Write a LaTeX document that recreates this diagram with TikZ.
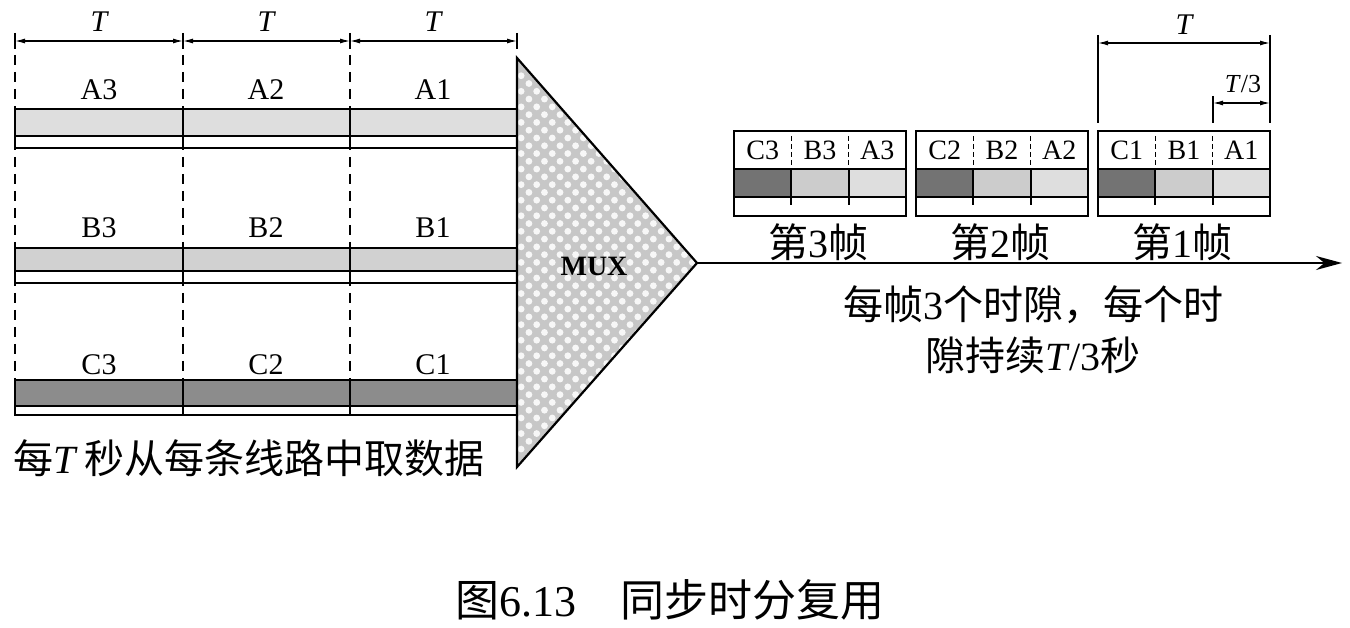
\documentclass[tikz,border=0pt]{standalone}
\usepackage{fontspec}
\setmainfont{Liberation Serif}
\newfontfamily\cjk{Noto Sans CJK SC}
\usetikzlibrary{arrows.meta,patterns.meta}
\newcommand\zh[1]{{\cjk #1}}
\definecolor{cA}{gray}{0.87}
\definecolor{cB}{gray}{0.82}
\definecolor{cC}{gray}{0.55}
\definecolor{fA}{gray}{0.87}
\definecolor{fB}{gray}{0.80}
\definecolor{fC}{gray}{0.45}
\definecolor{cM}{gray}{0.78}
\begin{document}
\begin{tikzpicture}[x=1pt,y=-1pt,line width=2pt,
  lab/.style={font=\fontsize{30}{32}\selectfont,inner sep=0pt},
  tlab/.style={font=\fontsize{30}{32}\selectfont\itshape,inner sep=0pt},
  flab/.style={font=\fontsize{28}{30}\selectfont,inner sep=0pt},
  zhtext/.style={font=\fontsize{40}{44}\selectfont,inner sep=0pt},
  dim/.style={line width=1.2pt,{Latex[length=10pt,width=5pt]}-{Latex[length=10pt,width=5pt]}},
  guide/.style={line width=1.4pt},
  dsh/.style={line width=1.8pt,dash pattern=on 10pt off 7pt},
  sdsh/.style={line width=1.3pt,dash pattern=on 5pt off 3pt}]
\fill[white] (0,0) rectangle (1350,628);
\useasboundingbox (0,0) rectangle (1350,628);

% ---- top T dimensions (left)
\foreach \x in {15,183,350,517} \draw[guide] (\x,33) -- (\x,49);
\coordinate (p0) at (15,41);
\coordinate (p1) at (183,41);
\coordinate (p2) at (350,41);
\coordinate (p3) at (517,41);
\draw[dim] (p0) -- (p1);
\draw[dim] (p1) -- (p2);
\draw[dim] (p2) -- (p3);
\node[tlab] (T1) at (99,22) {T};
\node[tlab] (T2) at (266,22) {T};
\node[tlab] (T3) at (433,22) {T};

% ---- dashed guides
\foreach \x in {15,183,350} \draw[dsh] (\x,55) -- (\x,380);

% ---- channels
\foreach \t/\m/\b/\c in {109/136/148/cA,248/271/283/cB,380/406/415/cC}{
  \fill[white] (15,\t) rectangle (517,\b);
  \fill[\c] (15,\t) rectangle (517,\m);
  \draw (15,\t) rectangle (517,\b);
  \draw (15,\m) -- (517,\m);
  \draw (183,\t) -- (183,\b);
  \draw (350,\t) -- (350,\b);
}
\node[lab] (A3) at (99,90) {A3};
\node[lab] (A2) at (266,90) {A2};
\node[lab] (A1) at (433,90) {A1};
\node[lab] (B3) at (99,228) {B3};
\node[lab] (B2) at (266,228) {B2};
\node[lab] (B1) at (433,228) {B1};
\node[lab] (C3) at (99,365) {C3};
\node[lab] (C2) at (266,365) {C2};
\node[lab] (C1) at (433,365) {C1};

\node[zhtext,anchor=west] (lcap) at (12,458) {\zh{每}\textit{T}\,\zh{秒从每条线路中取数据}};

% ---- MUX
\coordinate (mt) at (517,58);
\coordinate (mb) at (517,467);
\coordinate (ma) at (697,263);
\fill[cM] (mt) -- (ma) -- (mb) -- cycle;
\fill[pattern={Dots[distance=11pt,radius=3.4pt,angle=45]},pattern color=white!94!gray] (mt) -- (ma) -- (mb) -- cycle;
\draw[line width=2.2pt,line join=miter] (mt) -- (ma) -- (mb) -- cycle;
\node[font=\bfseries\fontsize{28}{30}\selectfont,inner sep=0pt] (mux) at (594,266) {MUX};

% ---- output line
\coordinate (out) at (1342,263);
\draw[line width=1.8pt,-{Stealth[length=26pt,width=14pt]}] (ma) -- (out);

% ---- frames
\foreach \x/\k in {734/3,916/2,1098/1}{
\begin{scope}[xshift=\x pt]
  \fill[white] (0,131) rectangle (172,216);
  \fill[fC] (0,169) rectangle (57.33,197);
  \fill[fB] (57.33,169) rectangle (114.67,197);
  \fill[fA] (114.67,169) rectangle (172,197);
  \draw (0,131) rectangle (172,216);
  \draw (0,169) -- (172,169);
  \draw (0,197) -- (172,197);
  \draw (57.33,169) -- (57.33,205);
  \draw (114.67,169) -- (114.67,205);
  \draw[sdsh] (57.33,136) -- (57.33,166);
  \draw[sdsh] (114.67,136) -- (114.67,166);
  \node[flab] (fc\k) at (28.67,150) {C\k};
  \node[flab] (fb\k) at (86,150) {B\k};
  \node[flab] (fa\k) at (143.33,150) {A\k};
  \node[zhtext] (fr\k) at (84,242) {\zh{第}\k\zh{帧}};
\end{scope}
}

% ---- right T dimensions
\coordinate (q0) at (1098,43);
\coordinate (q1) at (1270,43);
\coordinate (r0) at (1213,103);
\coordinate (r1) at (1270,103);
\draw[guide] (1098,35) -- (1098,123);
\draw[guide] (1270,35) -- (1270,123);
\draw[guide] (1213,96) -- (1213,123);
\draw[dim] (q0) -- (q1);
\draw[dim] (r0) -- (r1);
\node[tlab] (TR) at (1184,25) {T};
\node[font=\fontsize{26}{28}\selectfont,inner sep=0pt] (T3R) at (1243,84) {\textit{T}/3};

% ---- descriptions
\node[zhtext] (d1) at (1033,305) {\zh{每帧}3\zh{个时隙，每个时}};
\node[zhtext] (d2) at (1033,355) {\zh{隙持续}\textit{T}/3\zh{秒}};
\node[font=\fontsize{44}{48}\selectfont,inner sep=0pt] (cap) at (670,600) {\zh{图}6.13\quad\zh{同步时分复用}};
\end{tikzpicture}
\end{document}
